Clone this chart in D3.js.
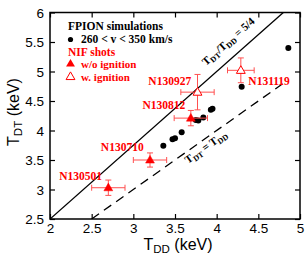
<!DOCTYPE html>
<html><head><meta charset="utf-8">
<script src="https://cdn.jsdelivr.net/npm/d3@7"></script>
<style>body{margin:0;background:#fff}svg{display:block}</style>
</head><body>
<svg id="c" width="308" height="259"></svg>
<script>
// FPION simulations (260 < v < 350 km/s)
const simTDD = [3.36, 3.47, 3.50, 3.58, 3.75, 3.78, 3.84, 3.93, 3.95, 4.30, 4.86];
const simTDT = [3.74, 3.85, 3.87, 3.97, 4.18, 4.17, 4.22, 4.35, 4.37, 4.74, 5.40];
// NIF shots
const shotNames = ["N130501", "N130710", "N130812", "N130927", "N131119"];
const shotTDD = [2.70, 3.20, 3.69, 3.77, 4.29];
const shotTDDerr = [0.20, 0.20, 0.20, 0.20, 0.16];
const shotTDT = [3.03, 3.50, 4.21, 4.65, 5.02];
const shotTDTerr = [0.13, 0.12, 0.13, 0.30, 0.21];
const shotIgnition = [false, false, false, true, true];
const labelTDD = [2.11, 2.61, 3.11, 3.18, 4.38];
const labelTDT = [3.16, 3.66, 4.36, 4.77, 4.77];
const xTicks = [2, 2.5, 3, 3.5, 4, 4.5, 5];
const yTicks = [2.5, 3, 3.5, 4, 4.5, 5, 5.5, 6];

const svg = d3.select("#c");
const L = 50, R = 300, T = 12.5, B = 219;
const x = d3.scaleLinear().domain([2, 5]).range([L, R]);
const y = d3.scaleLinear().domain([2.5, 6]).range([B, T]);
const red = "#ff0000", errc = "#ff5050";
const serif = "'Liberation Serif','Times New Roman',serif";
const sans = "'Liberation Sans',Arial,Helvetica,sans-serif";

svg.append("clipPath").attr("id", "clip").append("rect")
  .attr("x", L).attr("y", T).attr("width", R - L).attr("height", B - T);

const fmt = d => String(d);
const ax = svg.append("g").attr("transform", `translate(0,${B})`)
  .call(d3.axisBottom(x).tickValues(xTicks).tickFormat(fmt).tickSize(-5).tickPadding(4));
const ay = svg.append("g").attr("transform", `translate(${L},0)`)
  .call(d3.axisLeft(y).tickValues(yTicks).tickFormat(fmt).tickSize(-5).tickPadding(6));
const at = svg.append("g").attr("transform", `translate(0,${T})`)
  .call(d3.axisTop(x).tickValues(xTicks).tickFormat("").tickSize(-5));
const ar = svg.append("g").attr("transform", `translate(${R},0)`)
  .call(d3.axisRight(y).tickValues(yTicks).tickFormat("").tickSize(-5));
[ax, ay, at, ar].forEach(g => {
  g.select(".domain").remove();
  g.selectAll(".tick line").attr("stroke", "#000").attr("stroke-width", 1.2);
  g.selectAll("text").attr("font-family", sans).attr("font-size", 13.5).attr("fill", "#000");
});
ay.selectAll("text").attr("dy", "0.36em");

svg.append("rect").attr("x", L).attr("y", T).attr("width", R - L).attr("height", B - T)
  .attr("fill", "none").attr("stroke", "#000").attr("stroke-width", 1.5);

const plot = svg.append("g").attr("clip-path", "url(#clip)");
plot.append("line").attr("x1", x(2)).attr("y1", y(2.5)).attr("x2", x(4.8)).attr("y2", y(6))
  .attr("stroke", "#000").attr("stroke-width", 1.3);
plot.append("line").attr("x1", x(2.5)).attr("y1", y(2.5)).attr("x2", x(4.85)).attr("y2", y(4.85))
  .attr("stroke", "#000").attr("stroke-width", 1.3).attr("stroke-dasharray", "9,6");

function subLabel(g, parts, size) {
  const t = g.append("text").attr("font-family", serif).attr("font-weight", "bold")
    .attr("font-size", size).attr("fill", "#000");
  parts.forEach(p => {
    const s = t.append("tspan").text(p[0]);
    if (p[1] === "sub") s.attr("font-size", size * 0.72).attr("dy", size * 0.22);
    if (p[1] === "up") s.attr("dy", -size * 0.22);
  });
  return t;
}
const ang1 = Math.atan2(y(6) - y(2.5), x(4.8) - x(2)) * 180 / Math.PI;
subLabel(svg.append("g").attr("transform", `translate(206,66) rotate(${ang1})`),
  [["T"], ["DT", "sub"], ["/T", "up"], ["DD", "sub"], [" = 5/4", "up"]], 11);
const ang2 = Math.atan2(y(5) - y(2.5), x(5) - x(2.5)) * 180 / Math.PI;
subLabel(svg.append("g").attr("transform", `translate(188,164) rotate(${ang2})`),
  [["T"], ["DT", "sub"], [" = T", "up"], ["DD", "sub"]], 11);

plot.selectAll("circle.sim").data(simTDD).join("circle").attr("class", "sim")
  .attr("cx", (d, i) => x(d)).attr("cy", (d, i) => y(simTDT[i])).attr("r", 3).attr("fill", "#000");

const shots = shotNames.map((n, i) => ({n, x: shotTDD[i], xe: shotTDDerr[i], y: shotTDT[i], ye: shotTDTerr[i], ign: shotIgnition[i], lx: labelTDD[i], ly: labelTDT[i]}));
const eb = svg.append("g").attr("stroke", errc).attr("stroke-width", 1);
const cap = 3;
shots.forEach(s => {
  eb.append("line").attr("x1", x(s.x - s.xe)).attr("x2", x(s.x + s.xe)).attr("y1", y(s.y)).attr("y2", y(s.y));
  eb.append("line").attr("x1", x(s.x)).attr("x2", x(s.x)).attr("y1", y(s.y - s.ye)).attr("y2", y(s.y + s.ye));
  eb.append("line").attr("x1", x(s.x - s.xe)).attr("x2", x(s.x - s.xe)).attr("y1", y(s.y) - cap).attr("y2", y(s.y) + cap);
  eb.append("line").attr("x1", x(s.x + s.xe)).attr("x2", x(s.x + s.xe)).attr("y1", y(s.y) - cap).attr("y2", y(s.y) + cap);
  eb.append("line").attr("y1", y(s.y - s.ye)).attr("y2", y(s.y - s.ye)).attr("x1", x(s.x) - cap).attr("x2", x(s.x) + cap);
  eb.append("line").attr("y1", y(s.y + s.ye)).attr("y2", y(s.y + s.ye)).attr("x1", x(s.x) - cap).attr("x2", x(s.x) + cap);
});
const tri = d3.symbol().type(d3.symbolTriangle).size(34);
svg.selectAll("path.shot").data(shots).join("path").attr("class", "shot")
  .attr("d", tri).attr("transform", d => `translate(${x(d.x)},${y(d.y) + 0.5})`)
  .attr("fill", d => d.ign ? "#fff" : red).attr("stroke", red).attr("stroke-width", d => d.ign ? 1 : 0.5);
svg.selectAll("text.shotlab").data(shots).join("text").attr("class", "shotlab")
  .attr("x", d => x(d.lx)).attr("y", d => y(d.ly)).text(d => d.n)
  .attr("font-family", serif).attr("font-weight", "bold").attr("font-size", 11.5).attr("fill", red);

const lg = svg.append("g").attr("font-family", serif).attr("font-weight", "bold").attr("font-size", 11);
lg.append("text").attr("x", 68).attr("y", 30).text("FPION simulations").attr("fill", "#000").attr("font-size", 11.5);
lg.append("circle").attr("cx", 70.5).attr("cy", 39.5).attr("r", 2.6).attr("fill", "#000");
lg.append("text").attr("x", 81).attr("y", 43).text("260 < v < 350 km/s").attr("fill", "#000").attr("font-size", 11.5);
lg.append("text").attr("x", 68).attr("y", 56).text("NIF shots").attr("fill", red).attr("font-size", 11.5);
lg.append("path").attr("d", tri).attr("transform", "translate(70.5,64)").attr("fill", red);
lg.append("text").attr("x", 81).attr("y", 67.5).text("w/o ignition").attr("fill", red);
lg.append("path").attr("d", tri).attr("transform", "translate(70.5,77)").attr("fill", "#fff").attr("stroke", red);
lg.append("text").attr("x", 81).attr("y", 80.5).text("w. ignition").attr("fill", red);

function axTitle(g, main, sub, size) {
  const t = g.append("text").attr("font-family", sans).attr("font-size", size).attr("fill", "#000")
    .attr("text-anchor", "middle");
  t.append("tspan").text(main);
  t.append("tspan").text(sub).attr("font-size", size * 0.72).attr("dy", size * 0.2);
  t.append("tspan").text(" (keV)").attr("dy", -size * 0.2);
}
axTitle(svg.append("g").attr("transform", "translate(178,250)"), "T", "DD", 16);
axTitle(svg.append("g").attr("transform", "translate(19,112) rotate(-90)"), "T", "DT", 16);
</script>
</body></html>
